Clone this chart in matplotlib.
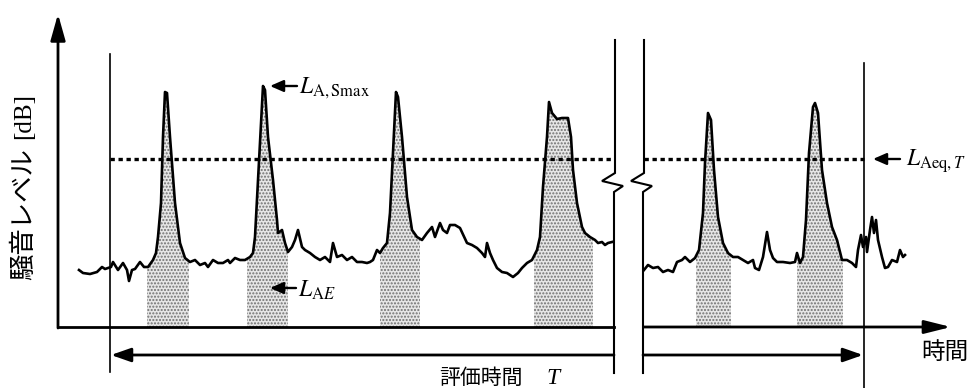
import matplotlib.pyplot as plt
import numpy as np

plt.rcParams["mathtext.fontset"] = "stix"

# noise level trace (x = time, y = level; screen-like units, y grows downward)
t_a = [79, 83, 90, 97, 102, 105, 111, 113, 118, 123, 127, 129, 132, 135, 140, 144,
       148, 153, 156, 158, 161, 163, 165, 167, 170, 175, 180, 185, 190, 195, 200, 205,
       208, 213, 218, 223, 228, 230, 235, 240, 245, 250, 253, 255, 258, 262, 263, 265,
       268, 273, 277, 278, 282, 285, 288, 292, 295, 298, 302, 305, 310, 315, 320, 325,
       330, 333, 337, 342, 347, 352, 357, 362, 367, 370, 373, 377, 380, 383, 387, 390,
       393, 396, 398, 402, 407, 412, 417, 422, 427, 432, 435, 440, 443, 447, 450, 455,
       460, 467, 472, 477, 482, 485, 487, 490, 493, 497, 502, 507, 513, 518, 522, 527,
       532, 537, 540, 543, 547, 549, 552, 557, 562, 568, 571, 573, 577, 582, 585, 590,
       595, 598, 602, 605, 608, 612]
lvl_a = [270, 273, 274, 272, 267, 269, 267, 262, 270, 263, 270, 281, 270, 269, 262, 267,
         267, 260, 253, 237, 203, 137, 92, 93, 137, 203, 243, 258, 262, 260, 265, 263,
         267, 260, 263, 263, 260, 263, 258, 260, 260, 257, 253, 237, 180, 103, 86, 90,
         137, 180, 220, 233, 230, 243, 252, 247, 240, 230, 247, 250, 253, 257, 260, 257,
         262, 243, 257, 255, 260, 257, 262, 262, 263, 262, 260, 250, 253, 248, 243, 213,
         153, 92, 97, 137, 197, 230, 237, 240, 233, 227, 237, 223, 230, 233, 225, 225,
         228, 243, 245, 248, 253, 257, 243, 253, 260, 268, 272, 273, 277, 273, 268, 263,
         260, 250, 237, 187, 137, 102, 113, 119, 118, 118, 137, 170, 203, 227, 233, 237,
         240, 243, 242, 245, 243, 242]
t_b = [644, 648, 653, 658, 663, 668, 673, 677, 682, 685, 690, 695, 699, 703, 705, 708,
       711, 714, 718, 723, 728, 733, 738, 743, 748, 753, 755, 759, 763, 767, 770, 773,
       777, 783, 790, 795, 797, 800, 803, 806, 809, 813, 815, 818, 822, 827, 832, 837,
       842, 847, 852, 856, 858, 861, 863, 866, 867, 870, 872, 874, 876, 878, 882, 885,
       888, 892, 897, 900, 903, 905]
lvl_b = [270, 265, 268, 267, 272, 270, 272, 262, 260, 257, 262, 258, 250, 213, 163, 113,
         120, 170, 217, 243, 253, 257, 257, 260, 263, 260, 268, 270, 257, 232, 250, 258,
         262, 262, 263, 262, 253, 263, 257, 220, 153, 107, 103, 113, 170, 203, 227, 240,
         260, 260, 263, 267, 250, 235, 247, 237, 252, 230, 217, 233, 220, 240, 257, 268,
         267, 260, 262, 250, 257, 255]

# single-event windows (shaded L_AE areas)
evt_start = [147, 247, 380, 534, 696, 797]
evt_end = [189, 288, 420, 593, 731, 843]

leq_level = 159
t_zero = 58
t_begin, t_stop = 110, 864
brk_l, brk_r = 615, 644
base = 327

fig = plt.figure(figsize=(9.74, 3.88), dpi=100)
ax = fig.add_axes([0, 0, 1, 1])
ax.set_xlim(0, 974)
ax.set_ylim(388, 0)
ax.axis("off")

t_all = np.array(t_a + t_b, dtype=float)
l_all = np.array(lvl_a + lvl_b, dtype=float)

# shaded event areas
for s, e in zip(evt_start, evt_end):
    m = (t_all > s) & (t_all < e)
    xs = np.concatenate([[s], t_all[m], [e]])
    ys = np.concatenate([[np.interp(s, t_all, l_all)], l_all[m], [np.interp(e, t_all, l_all)]])
    ax.fill_between(xs, ys, base, facecolor="#e6e6e6", edgecolor="#707070",
                    hatch=".....", linewidth=0, zorder=1)

ax.plot(t_a, lvl_a, color="black", lw=1.9, zorder=3, solid_joinstyle="round")
ax.plot(t_b, lvl_b, color="black", lw=1.9, zorder=3, solid_joinstyle="round")

# L_Aeq,T dotted line
for x0, x1 in [(t_begin, brk_l - 2), (brk_r, t_stop)]:
    ax.plot([x0, x1], [leq_level, leq_level], color="black", lw=2.4,
            dashes=(1.3, 1.1), zorder=2)

# axes
ax.plot([t_zero, brk_l - 1], [base, base], color="black", lw=2.0, zorder=4)
ax.annotate("", xy=(951, base), xytext=(brk_r, base),
            arrowprops=dict(arrowstyle="-|>,head_length=1.6,head_width=0.4",
                            lw=2.0, color="black", shrinkA=0, shrinkB=0), zorder=4)
ax.annotate("", xy=(t_zero, 14), xytext=(t_zero, base + 1),
            arrowprops=dict(arrowstyle="-|>,head_length=1.6,head_width=0.45",
                            lw=2.0, color="black", shrinkA=0, shrinkB=0), zorder=4)

# vertical marker lines
ax.plot([t_begin, t_begin], [54, 372], color="black", lw=1.2)
ax.plot([t_stop, t_stop], [63, 388], color="black", lw=1.2)

# break lines with zigzag
for x in [brk_l, brk_r]:
    ax.plot([x, x, x - 13, x + 8, x - 1, x - 1], [40, 173, 181, 186, 192, 373],
            color="black", lw=1.5, solid_joinstyle="miter")

# evaluation time arrows
ax.annotate("", xy=(t_begin + 1, 355), xytext=(brk_l - 1, 355),
            arrowprops=dict(arrowstyle="-|>,head_length=1.2,head_width=0.42",
                            lw=2.0, color="black", shrinkA=0, shrinkB=0))
ax.annotate("", xy=(t_stop - 1, 355), xytext=(brk_r - 1, 355),
            arrowprops=dict(arrowstyle="-|>,head_length=1.2,head_width=0.42",
                            lw=2.0, color="black", shrinkA=0, shrinkB=0))

# label arrows
small = dict(arrowstyle="-|>,head_length=0.8,head_width=0.35",
             lw=1.7, color="black", shrinkA=0, shrinkB=0)
ax.annotate("", xy=(270, 86), xytext=(297, 86), arrowprops=small)
ax.annotate("", xy=(270, 288), xytext=(296, 288), arrowprops=small)
ax.annotate("", xy=(873, 159), xytext=(900, 159), arrowprops=small)

ax.text(299, 88, r"$L_{\mathrm{A,Smax}}$", fontsize=17, ha="left", va="center")
ax.text(298, 290, r"$L_{\mathrm{A}E}$", fontsize=17, ha="left", va="center")
ax.text(906, 161, r"$L_{\mathrm{Aeq},T}$", fontsize=17, ha="left", va="center")

jp = ["Noto Sans CJK JP", "DejaVu Sans"]
ax.text(24, 214, "騒音レベル", family=jp, fontsize=19, rotation=90,
        ha="center", va="center")
ax.text(24, 116, "[dB]", family="Liberation Serif", fontsize=18, rotation=90,
        ha="center", va="center")
ax.text(921, 352, "時間", family=jp, fontsize=17, ha="left", va="center")
ax.text(439, 378, "評価時間", family=jp, fontsize=15, ha="left", va="center")
ax.text(546, 378, "T", family="Liberation Serif", style="italic", fontsize=17,
        ha="left", va="center")

fig.savefig("out.png", dpi=100)
